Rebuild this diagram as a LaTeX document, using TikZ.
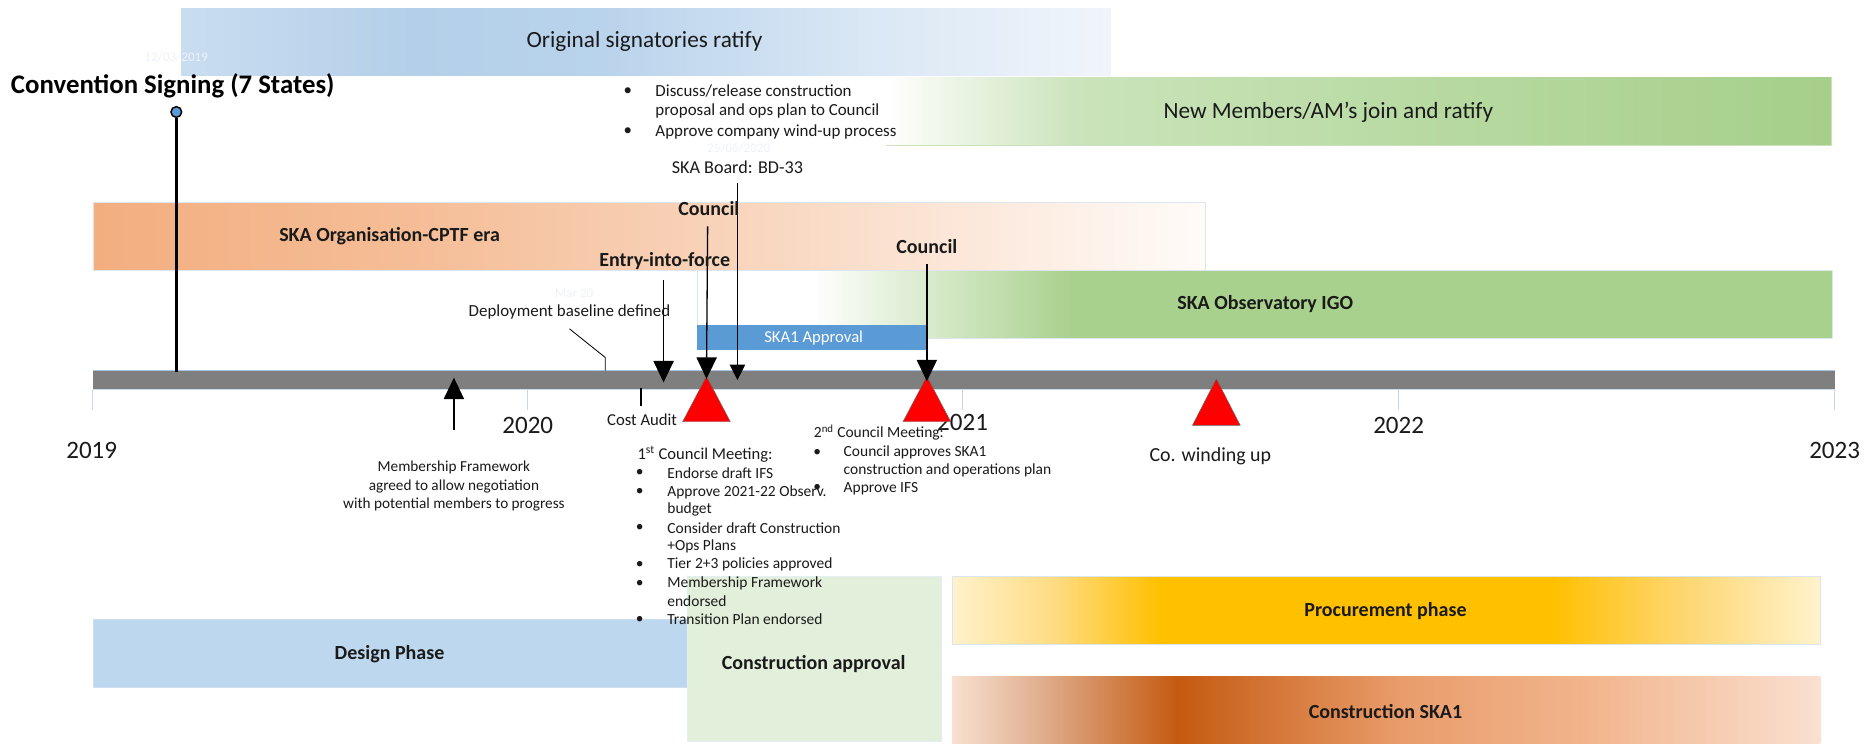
\documentclass[tikz,border=0pt]{standalone}
\usepackage{fontspec}
\setmainfont{Carlito}
\usetikzlibrary{arrows.meta}
\newcommand\fs[2]{\fontsize{#1}{#2}\selectfont}
\definecolor{btA}{HTML}{C9DDF0}\definecolor{btB}{HTML}{B4CFE9}\definecolor{btC}{HTML}{B9D3EC}\definecolor{btD}{HTML}{DBE8F5}\definecolor{btE}{HTML}{F0F5FB}
\definecolor{gtA}{HTML}{FFFFFF}\definecolor{gtB}{HTML}{F4F9F0}\definecolor{gtC}{HTML}{CBE4BB}\definecolor{gtD}{HTML}{B6D9A0}\definecolor{gtE}{HTML}{A6CF8A}
\definecolor{orA}{HTML}{F3AE7F}\definecolor{orB}{HTML}{F5BE98}\definecolor{orC}{HTML}{F8D2B8}\definecolor{orD}{HTML}{FCE9DC}\definecolor{orE}{HTML}{FFFBF8}
\definecolor{gmA}{HTML}{A9D18E}
\definecolor{prA}{HTML}{FFF2CC}\definecolor{prB}{HTML}{FEDB80}\definecolor{prC}{HTML}{FFC000}\definecolor{prD}{HTML}{FED670}
\definecolor{csA}{HTML}{F9E0D0}\definecolor{csB}{HTML}{E0B090}\definecolor{csC}{HTML}{C55A11}\definecolor{csD}{HTML}{DB8A55}\definecolor{csE}{HTML}{E99D6C}\definecolor{csF}{HTML}{F2B48C}\definecolor{csG}{HTML}{FAE0D0}
\definecolor{barGray}{HTML}{7F7F7F}
\definecolor{barEdge}{HTML}{A9C4E0}
\definecolor{tickBlue}{HTML}{C5D9EE}
\definecolor{skaBlue}{HTML}{5B9BD5}
\definecolor{designBlue}{HTML}{BDD7EE}
\definecolor{approvalGreen}{HTML}{E2EFDA}
\definecolor{bandEdge}{HTML}{DDE6EF}
\definecolor{txt}{HTML}{1A1A1A}
\definecolor{faintDate}{HTML}{EEF3F9}
\pgfdeclarehorizontalshading{shBlueTop}{100bp}{color(0bp)=(btA); color(25bp)=(btA); color(37.5bp)=(btB); color(47.5bp)=(btC); color(62.5bp)=(btD); color(75bp)=(btE); color(100bp)=(btE)}
\pgfdeclarehorizontalshading{shGreenTop}{100bp}{color(0bp)=(gtA); color(25bp)=(gtA); color(27bp)=(gtB); color(35bp)=(gtC); color(55bp)=(gtD); color(75bp)=(gtE); color(100bp)=(gtE)}
\pgfdeclarehorizontalshading{shOrange}{100bp}{color(0bp)=(orA); color(25bp)=(orA); color(40bp)=(orB); color(52.5bp)=(orC); color(65bp)=(orD); color(75bp)=(orE); color(100bp)=(orE)}
\pgfdeclarehorizontalshading{shGreenMid}{100bp}{color(0bp)=(white); color(25bp)=(white); color(30bp)=(white); color(41.5bp)=(gmA); color(75bp)=(gmA); color(100bp)=(gmA)}
\pgfdeclarehorizontalshading{shProc}{100bp}{color(0bp)=(prA); color(25bp)=(prA); color(31bp)=(prB); color(37bp)=(prC); color(59.5bp)=(prC); color(67bp)=(prD); color(75bp)=(prA); color(100bp)=(prA)}
\pgfdeclarehorizontalshading{shCons}{100bp}{color(0bp)=(csA); color(25bp)=(csA); color(30bp)=(csB); color(38bp)=(csC); color(51bp)=(csE); color(61.5bp)=(csF); color(75bp)=(csG); color(100bp)=(csG)}
\tikzset{
  band/.style={draw=bandEdge, line width=0.6pt},
  bandtxt/.style={inner sep=0pt, text=txt, font=\fs{19.5}{23}},
  boldtxt/.style={inner sep=0pt, text=txt, font=\fs{16.8}{20}\bfseries},
  smalltxt/.style={inner sep=0pt, text=txt, font=\fs{13}{15.5}},
  midtxt/.style={inner sep=0pt, text=txt, font=\fs{14.2}{17}},
  datetxt/.style={inner sep=0pt, text=faintDate, font=\fs{11}{13}},
  yeartxt/.style={inner sep=0pt, text=txt, font=\fs{21}{25}},
  marker/.style={draw=black, line width=1.1pt, -{Triangle[width=17pt,length=18pt]}},
  redtri/.style={fill=red, draw=black!60, line width=0.4pt},
  tick/.style={draw=tickBlue, line width=0.8pt},
}
\begin{document}
\begin{tikzpicture}[x=1pt,y=-1pt]
\useasboundingbox (0,0) rectangle (1568,624.5);
\fill[white] (0,0) rectangle (1568,624.5);
% ---------- bands ----------
\shade[shading=shBlueTop] (152,7) rectangle (932,63);
\node[bandtxt] (origsig) at (541,35) {Original signatories ratify};
\shade[shading=shGreenTop] (744,65) rectangle (1537,122);
\draw[draw=gtE!60, line width=0.5pt] (744,122) -- (1537,122) -- (1537,65);
\node[bandtxt] (newmem) at (1115,94) {New Members/AM’s join and ratify};
\shade[shading=shOrange] (78,170) rectangle (1012,227);
\draw[band] (78,170) rectangle (1012,227);
\node[boldtxt] (skaorg) at (327,198) {SKA Organisation-CPTF era};
\shade[shading=shGreenMid] (585,227) rectangle (1538,284);
\draw[band] (585,227) rectangle (1538,284);
\node[boldtxt] (skaobs) at (1062,255) {SKA Observatory IGO};
\fill[skaBlue] (585,273) rectangle (778,294);
\node[inner sep=0pt, text=white, font=\fs{14}{17}] (ska1appr) at (683,284) {SKA1 Approval};
% ---------- bottom phase boxes ----------
\fill[designBlue] (78,520) rectangle (577,577);
\draw[draw=designBlue!80!white, line width=0.5pt] (78,520) rectangle (577,577);
\node[boldtxt] (design) at (327,549) {Design Phase};
\fill[approvalGreen] (577,484) rectangle (790,622);
\draw[draw=approvalGreen!70!skaBlue!40, line width=0.5pt] (577,484) rectangle (790,622);
\node[boldtxt] (consappr) at (683,557) {Construction approval};
\shade[shading=shProc] (799,484) rectangle (1528,541);
\draw[band] (799,484) rectangle (1528,541);
\node[boldtxt] (procure) at (1163,513) {Procurement phase};
\shade[shading=shCons] (799,568) rectangle (1528,624.5);
\node[boldtxt] (consska) at (1163,597) {Construction SKA1};
% ---------- timeline ----------
\fill[barGray] (78,311) rectangle (1540,327);
\draw[barEdge, line width=0.7pt] (78,311) -- (1540,311);
\draw[barEdge!60, line width=0.7pt] (78,327) -- (1540,327);
\foreach \xx/\nm in {78/ta,443/tb,808/tc,1174/td,1540/te}{
  \coordinate (\nm) at (\xx,327);
  \draw[tick] (\nm) -- ++(0,17);
}
\node[yeartxt] (y2019) at (77,378) {2019};
\node[yeartxt] (y2020) at (443,357) {2020};
\node[yeartxt] (y2021) at (808,355) {2021};
\node[yeartxt] (y2022) at (1174,357) {2022};
\node[yeartxt] (y2023) at (1540,378) {2023};
% ---------- convention signing ----------
\node[inner sep=0pt, text=black, font=\fs{22.5}{26}\bfseries, anchor=west] (conv) at (9,72) {Convention Signing (7 States)};
\node[datetxt] (d2019) at (148,48) {12/03/2019};
\node[circle, fill=skaBlue, draw=black, line width=1.2pt, minimum size=9pt, inner sep=0pt] (convdot) at (148,94) {};
\coordinate (convbar) at (148,312);
\draw[black, line width=2.2pt] (convdot.south) -- (convbar);
% ---------- board bullets ----------
\node[midtxt] (bb1) at (527,76.5) {•};
\node[midtxt, anchor=west] (bt1) at (550,76.5) {Discuss/release construction};
\node[midtxt, anchor=west] (bt2) at (550,93.5) {proposal and ops plan to Council};
\node[midtxt] (bb2) at (527,110.5) {•};
\node[midtxt, anchor=west] (bt3) at (550,110.5) {Approve company wind-up process};
\node[datetxt] (d2020) at (620,124) {25/06/2020};
\node[inner sep=0pt, text=txt, font=\fs{15.2}{18}] (board) at (619,140) {SKA Board: BD-33};
\coordinate (boardtip) at (619,319);
\draw[black, line width=0.9pt, -{Triangle[width=13pt,length=13pt]}] (619,154) -- (boardtip);
% ---------- red triangles ----------
\filldraw[redtri] (573,354) -- (593,316) -- (613,354) -- cycle;
\coordinate (rt1) at (593,318);
\filldraw[redtri] (758,354) -- (778,316) -- (798,354) -- cycle;
\coordinate (rt2) at (778,320);
\filldraw[redtri] (1001,357) -- (1021,318) -- (1041,357) -- cycle;
\coordinate (rt3) at (1021,320);
\node[inner sep=0pt, text=txt, font=\fs{16.7}{20}] (winding) at (1016,383) {Co. winding up};
% ---------- council / entry markers ----------
\node[boldtxt] (council1) at (595,175) {Council};
\draw[marker] (594,190) -- (rt1);
\node[boldtxt] (entry) at (558,219) {Entry-into-force};
\coordinate (entrytop) at (557,235);
\coordinate (entrytip) at (557,321);
\draw[marker] (entrytop) -- (entrytip);
\node[boldtxt] (council2) at (778,207) {Council};
\coordinate (council2top) at (778,222);
\draw[marker] (council2top) -- (rt2);
% ---------- deployment baseline ----------
\node[datetxt] (dmar) at (482,246) {Mar 20};
\node[midtxt] (deploy) at (478,262) {Deployment baseline defined};
\coordinate (depbar) at (508,311);
\draw[black, line width=0.7pt] (478,276) -- (508,300) -- (depbar);
% ---------- membership framework ----------
\coordinate (membase) at (381,361);
\coordinate (memtip) at (381,317);
\draw[marker] (membase) -- (memtip);
\node[inner sep=0pt, text=txt, font=\fs{12.8}{15.5}, align=center] (memtxt) at (381,408) {Membership Framework\\agreed to allow negotiation\\with potential members to progress};
% ---------- cost audit ----------
\coordinate (costtop) at (538,326);
\draw[black, line width=1pt] (costtop) -- (538,341);
\node[inner sep=0pt, text=txt, font=\fs{14}{17}] (cost) at (539,352) {Cost Audit};
% ---------- 1st council meeting ----------
\node[inner sep=0pt, text=txt, font=\fs{13.9}{16.5}, anchor=west] (m1h) at (535,381) {1\textsuperscript{st} Council Meeting:};
\foreach \yy/\nm in {397/ma,413/mb,443/mc,474/md,490/me,520/mf}{
  \node[smalltxt] (\nm) at (537,\yy) {•};
}
\node[smalltxt, anchor=west] (m1a) at (560,397) {Endorse draft IFS};
\node[smalltxt, anchor=west] (m1b) at (560,413) {Approve 2021-22 Observ.};
\node[smalltxt, anchor=west] (m1c) at (560,428) {budget};
\node[smalltxt, anchor=west] (m1d) at (560,443) {Consider draft Construction};
\node[smalltxt, anchor=west] (m1e) at (560,459) {+Ops Plans};
\node[smalltxt, anchor=west] (m1f) at (560,474) {Tier 2+3 policies approved};
\node[smalltxt, anchor=west] (m1g) at (560,490) {Membership Framework};
\node[smalltxt, anchor=west] (m1h2) at (560,505) {endorsed};
\node[smalltxt, anchor=west] (m1i) at (560,520) {Transition Plan endorsed};
% ---------- 2nd council meeting ----------
\node[smalltxt, anchor=west] (m2h) at (683,363) {2\textsuperscript{nd} Council Meeting:};
\node[smalltxt] (m2ba) at (686,380) {•};
\node[smalltxt] (m2bb) at (686,410) {•};
\node[smalltxt, anchor=west] (m2a) at (708,380) {Council approves SKA1};
\node[smalltxt, anchor=west] (m2b) at (708,395) {construction and operations plan};
\node[smalltxt, anchor=west] (m2c) at (708,410) {Approve IFS};
\end{tikzpicture}
\end{document}
